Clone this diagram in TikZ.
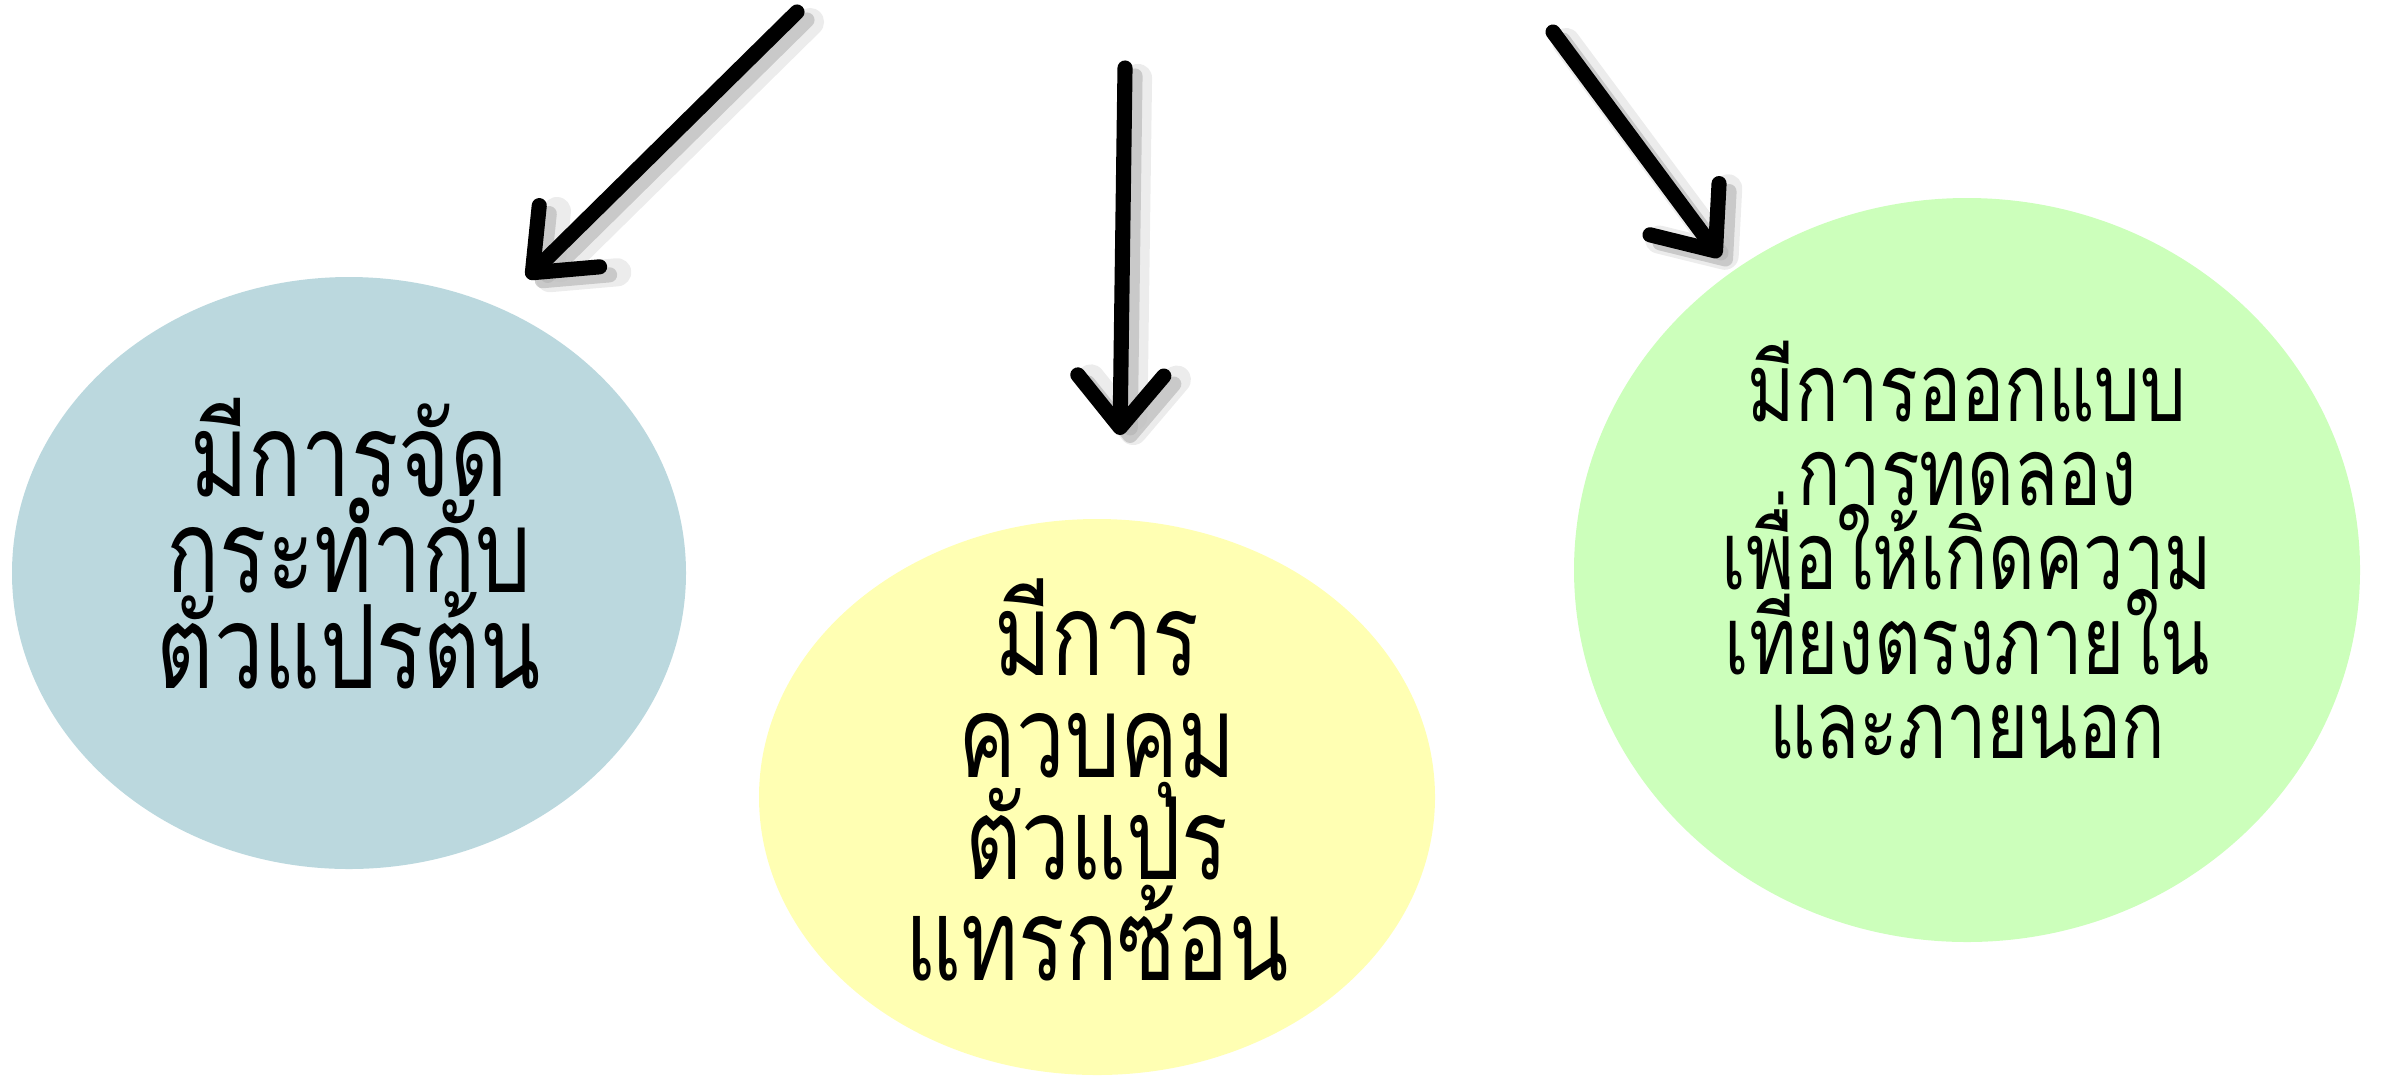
\documentclass[tikz,border=0pt]{standalone}
\usepackage{fontspec}
\newfontfamily\thaifont[Script=Thai,FakeStretch=0.76]{Loma}
\usetikzlibrary{shapes.geometric,arrows.meta}
\definecolor{bluefill}{RGB}{187,216,222}
\definecolor{yellowfill}{RGB}{255,255,179}
\definecolor{greenfill}{RGB}{204,255,187}
\tikzset{
  blob/.style={ellipse, inner sep=0pt},
  blobtext/.style={align=center, inner sep=0pt},
  arrowline/.style={line width=4.3pt, line cap=round,
    -{Straight Barb[length=5.2mm,width=8.6mm,line cap=round,line join=round]}},
  shadowwide/.style={arrowline, draw=black!12, line width=8pt, opacity=0.6},
  shadownarrow/.style={arrowline, draw=black!30, line width=4.3pt, opacity=0.6},
}
\newcommand{\thaisize}[2]{\thaifont\fontsize{#1}{#2}\selectfont\lineskiplimit=-100pt\lineskip=0pt}
\begin{document}
\begin{tikzpicture}
\useasboundingbox (0,0) rectangle (23.82,-10.76);
\node[blob, fill=bluefill, minimum width=6.74cm, minimum height=5.92cm] (manip) at (3.49,-5.73) {};
\node[blob, fill=yellowfill, minimum width=6.76cm, minimum height=5.56cm] (control) at (10.97,-7.97) {};
\node[blob, fill=greenfill, minimum width=7.86cm, minimum height=7.44cm] (design) at (19.67,-5.70) {};
\node[blobtext, font=\thaisize{33}{27.3}] (manipText) at (3.49,-5.44)
  {มีการจัด\\กระทำกับ\\ตัวแปรต้น};
\node[blobtext, font=\thaisize{32.5}{29}] (controlText) at (10.97,-7.80)
  {มีการ\\ควบคุม\\ตัวแปร\\แทรกซ้อน};
\node[blobtext, font=\thaisize{27}{24}] (designText) at (19.67,-5.50)
  {มีการออกแบบ\\การทดลอง\\เพื่อให้เกิดความ\\เที่ยงตรงภายใน\\และภายนอก};
\coordinate (a1s) at (7.97,-0.12);
\coordinate (a1e) at (5.27,-2.78);
\coordinate (a2s) at (11.25,-0.68);
\coordinate (a2e) at (11.20,-4.35);
\coordinate (a3s) at (15.53,-0.32);
\coordinate (a3e) at (17.20,-2.57);
\foreach \s/\e in {a1s/a1e, a2s/a2e, a3s/a3e} {
  \draw[shadowwide, transform canvas={shift={(0.13,-0.10)}}] (\s) -- (\e);
  \draw[shadownarrow, transform canvas={shift={(0.10,-0.08)}}] (\s) -- (\e);
  \draw[arrowline] (\s) -- (\e);
}
\end{tikzpicture}
\end{document}
